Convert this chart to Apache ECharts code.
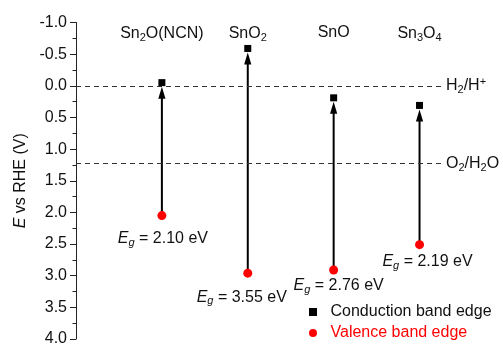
<!DOCTYPE html>
<html>
<head>
<meta charset="utf-8">
<script src="https://cdn.jsdelivr.net/npm/echarts@6/dist/echarts.min.js"></script>
<style>html,body{margin:0;padding:0;background:#fff}#c{width:503px;height:347px}</style>
</head>
<body>
<div id="c"></div>
<script>
// ---- data ----
const categories = ['Sn2O(NCN)', 'SnO2', 'SnO', 'Sn3O4'];
const conductionBand = [-0.05, -0.59, 0.19, 0.31];
const valenceBand = [2.05, 2.96, 2.91, 2.51];
const gapLabels = ['2.10', '3.55', '2.76', '2.19'];
const refValues = [0, 1.23];
const refNames = ['H2/H+', 'O2/H2O'];
const yTicks = { min: -1.0, max: 4.0, interval: 0.5 };
// label offsets (styling only)
const gapLabelOffsets = [[1, 23], [-6, 24], [5, 16], [8, 17]];

const FONT = 'Liberation Sans, Arial, sans-serif';
const TXT = '#111';
const subRich = {
  sub: { fontSize: 11, fontFamily: FONT, color: TXT, padding: [8, 0, 0, 0] },
  sup: { fontSize: 11, fontFamily: FONT, color: TXT, padding: [0, 0, 8, 0] },
  it: { fontSize: 16, fontFamily: FONT, color: TXT, fontStyle: 'italic' },
  isub: { fontSize: 11, fontFamily: FONT, color: TXT, fontStyle: 'italic', padding: [8, 0, 0, 0] }
};
function chem(s) {
  return s.replace(/(\d)/g, '{sub|$1}').replace(/\+/g, '{sup|+}');
}

const cbData = categories.map((c, i) => [i + 1, conductionBand[i]]);
const vbData = categories.map((c, i) => ({
  value: [i + 1, valenceBand[i]],
  label: { offset: gapLabelOffsets[i] }
}));
const arrowData = categories.map((c, i) => [i + 1, conductionBand[i], valenceBand[i]]);

const chart = echarts.init(document.getElementById('c'), null, { renderer: 'canvas' });
chart.setOption({
  animation: false,
  backgroundColor: '#fff',
  textStyle: { fontFamily: FONT },
  grid: { left: 76, right: 62, top: 22.5, bottom: 7, containLabel: false },
  xAxis: {
    type: 'value', min: 0, max: 4.25, interval: 1, position: 'top',
    axisLine: { show: false }, axisTick: { show: false }, splitLine: { show: false },
    axisLabel: {
      inside: true, margin: 2, fontSize: 16, color: TXT, fontFamily: FONT,
      verticalAlign: 'top',
      formatter: v => (categories[v - 1] ? chem(categories[v - 1]) : ''),
      rich: subRich
    }
  },
  yAxis: {
    type: 'value', inverse: true, min: yTicks.min, max: yTicks.max, interval: yTicks.interval,
    name: '{it|E} vs RHE (V)', nameLocation: 'middle', nameRotate: 90, nameGap: 39,
    nameTextStyle: { fontSize: 16, color: TXT, fontFamily: FONT, rich: subRich },
    axisLine: { show: true, lineStyle: { color: '#222', width: 1 } },
    axisTick: { show: true, inside: false, length: 6, lineStyle: { color: '#222' } },
    minorTick: { show: true, splitNumber: 2, length: 3.5, lineStyle: { color: '#222' } },
    splitLine: { show: false },
    axisLabel: { fontSize: 16, color: TXT, fontFamily: FONT, margin: 9,
      formatter: v => v.toFixed(1) }
  },
  legend: {
    orient: 'vertical', left: 309, top: 303, padding: 0, itemGap: 3,
    itemWidth: 25, itemHeight: 8, symbolKeepAspect: true,
    textStyle: { fontSize: 16, color: TXT, fontFamily: FONT, lineHeight: 18 },
    data: [
      { name: 'Conduction band edge', icon: 'path://M0,0H10V10H0Z', itemStyle: { color: '#000', opacity: 1 } },
      { name: 'Valence band edge', icon: 'circle', itemStyle: { color: '#f00', opacity: 1 }, textStyle: { color: '#f00' } }
    ]
  },
  series: [
    {
      type: 'custom', name: 'arrows', z: 2,
      data: arrowData,
      encode: { x: 0, y: [1, 2] },
      renderItem: function (params, api) {
        const x = api.value(0);
        const top = api.coord([x, api.value(1)]);
        const bot = api.coord([x, api.value(2)]);
        const tipY = top[1] + 4;
        const hh = 12, hw = 3.6;
        return {
          type: 'group',
          children: [
            { type: 'line', shape: { x1: bot[0], y1: bot[1], x2: bot[0], y2: tipY + hh - 1 },
              style: { stroke: '#000', lineWidth: 2 } },
            { type: 'polygon', shape: { points: [[top[0], tipY], [top[0] - hw, tipY + hh], [top[0] + hw, tipY + hh]] },
              style: { fill: '#000' } }
          ]
        };
      },
      markLine: {
        silent: true, symbol: 'none',
        lineStyle: { type: [5, 4], color: '#333', width: 1 },
        label: {
          show: true, position: 'end', distance: 5, fontSize: 16, color: TXT, fontFamily: FONT,
          formatter: p => chem(refNames[p.dataIndex]), rich: subRich
        },
        data: refValues.map(v => ({ yAxis: v }))
      }
    },
    {
      type: 'scatter', name: 'Conduction band edge', z: 5,
      symbol: 'rect', symbolSize: 7, itemStyle: { color: '#000', opacity: 1 },
      data: cbData
    },
    {
      type: 'scatter', name: 'Valence band edge', z: 5,
      symbol: 'circle', symbolSize: 9, itemStyle: { color: '#f00', opacity: 1 },
      label: {
        show: true, position: 'inside', fontSize: 16, color: TXT, fontFamily: FONT,
        formatter: p => '{it|E}{isub|g} = ' + gapLabels[p.dataIndex] + ' eV',
        rich: subRich
      },
      data: vbData
    }
  ]
});
</script>
</body>
</html>
